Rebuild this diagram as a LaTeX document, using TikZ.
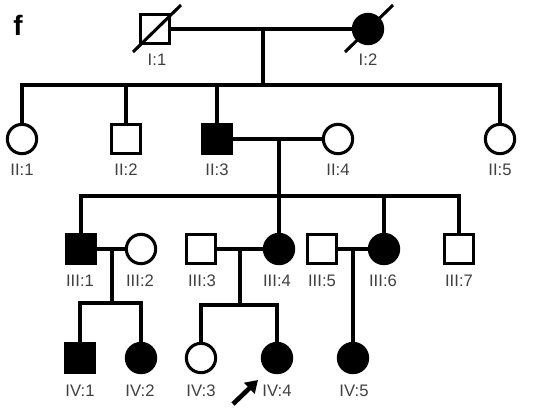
\documentclass[tikz,border=0pt]{standalone}
\usepackage{fontspec}
\setmainfont{Liberation Sans}
\usetikzlibrary{calc,arrows.meta}
\begin{document}
\begin{tikzpicture}[x=0.75pt,y=-0.75pt,
  lw/.style={line width=2.3pt, line join=miter},
  sym/.style={draw, line width=2.3pt, minimum size=22pt, inner sep=0pt, fill=white},
  male/.style={sym, rectangle},
  female/.style={sym, circle},
  aff/.style={fill=black},
  lbl/.style={font=\fontsize{12.5}{12.5}\selectfont, text=black!75, inner sep=0pt},
  ]
\useasboundingbox (0,0) rectangle (545,412);
\node[font=\fontsize{21}{21}\selectfont\bfseries, inner sep=0pt] (f) at (18,25) {f};

% Generation I
\node[male] (I1) at (155,29) {};
\node[female,aff] (I2) at (368,29) {};
\draw[lw] (I1) -- (I2);
\draw[lw] ($(I1.center)+(-22,23)$) -- ($(I1.center)+(26,-24)$);
\draw[lw] ($(I2.center)+(-23,23)$) -- ($(I2.center)+(25,-24)$);
\node[lbl] (lI1) at (157,60) {I:1};
\node[lbl] (lI2) at (368,60) {I:2};

% Generation II
\node[female] (II1) at (22,139) {};
\node[male] (II2) at (126,139) {};
\node[male,aff] (II3) at (217,139) {};
\node[female] (II4) at (338,139) {};
\node[female] (II5) at (500,139) {};
\coordinate (m1) at (263,29);
\coordinate (s1) at (263,85);
\draw[lw] (m1) -- (s1);
\draw[lw] (II1.north) |- (II5.north |- s1) -- (II5.north);
\draw[lw] (II2.north) -- (II2.north |- s1);
\draw[lw] (II3.north) -- (II3.north |- s1);
\node[lbl] (lII1) at (22,170) {II:1};
\node[lbl] (lII2) at (126,170) {II:2};
\node[lbl] (lII3) at (217,170) {II:3};
\node[lbl] (lII4) at (338,170) {II:4};
\node[lbl] (lII5) at (500,170) {II:5};
\draw[lw] (II3) -- (II4);

% Generation III
\node[male,aff] (III1) at (81,249) {};
\node[female] (III2) at (141,249) {};
\node[male] (III3) at (201,249) {};
\node[female,aff] (III4) at (279,249) {};
\node[male] (III5) at (322,249) {};
\node[female,aff] (III6) at (384,249) {};
\node[male] (III7) at (459,249) {};
\coordinate (m2) at (279,139);
\coordinate (s2) at (279,196);
\draw[lw] (m2) -- (s2);
\draw[lw] (III1.north) |- (III7.north |- s2) -- (III7.north);
\draw[lw] (s2) -- (III4.north);
\draw[lw] (III6.north) -- (III6.north |- s2);
\draw[lw] (III1) -- (III2);
\draw[lw] (III3) -- (III4);
\draw[lw] (III5) -- (III6);
\node[lbl] (lIII1) at (80,281) {III:1};
\node[lbl] (lIII2) at (140,281) {III:2};
\node[lbl] (lIII3) at (202,281) {III:3};
\node[lbl] (lIII4) at (277,281) {III:4};
\node[lbl] (lIII5) at (322,281) {III:5};
\node[lbl] (lIII6) at (383,281) {III:6};
\node[lbl] (lIII7) at (459,281) {III:7};

% Generation IV
\node[male,aff] (IV1) at (80,358) {};
\node[female,aff] (IV2) at (141,358) {};
\node[female] (IV3) at (201,358) {};
\node[female,aff] (IV4) at (277,358) {};
\node[female,aff] (IV5) at (353,358) {};
\coordinate (m3) at (112,249);
\coordinate (s3) at (112,303);
\draw[lw] (m3) -- (s3);
\draw[lw] (IV1.north) |- (IV2.north |- s3) -- (IV2.north);
\coordinate (m4) at (240,249);
\coordinate (s4) at (240,305);
\draw[lw] (m4) -- (s4);
\draw[lw] (IV3.north) |- (IV4.north |- s4) -- (IV4.north);
\coordinate (m5) at (353,249);
\draw[lw] (m5) -- (IV5.north);
\node[lbl] (lIV1) at (80,391) {IV:1};
\node[lbl] (lIV2) at (140,391) {IV:2};
\node[lbl] (lIV3) at (201,391) {IV:3};
\node[lbl] (lIV4) at (277,391) {IV:4};
\node[lbl] (lIV5) at (354,391) {IV:5};

% proband arrow
\coordinate (atail) at (233,404);
\coordinate (ahead) at (258,380);
\draw[line width=3.5pt, -{Triangle[length=9pt,width=11pt]}] (atail) -- (ahead);
\end{tikzpicture}
\end{document}
